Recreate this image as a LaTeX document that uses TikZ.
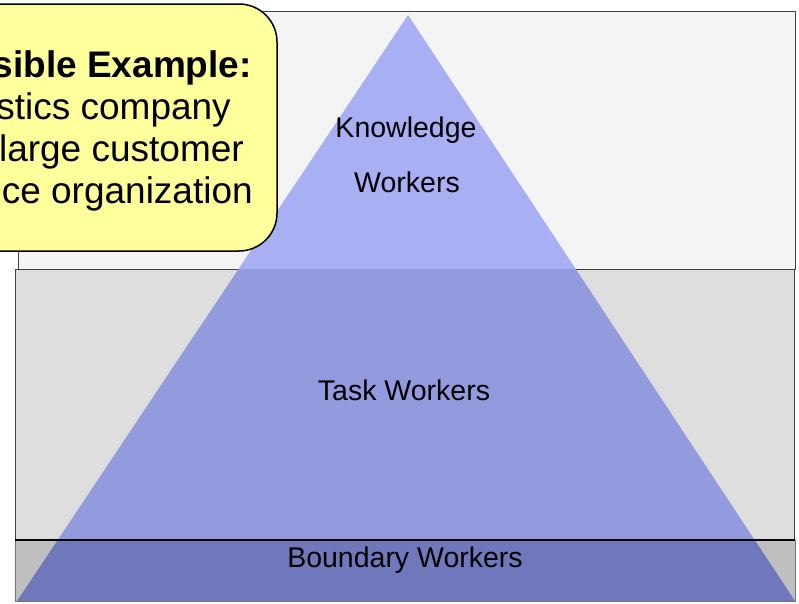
\documentclass[tikz,border=0pt]{standalone}
\usepackage{fontspec}
\setmainfont{Liberation Sans}
\definecolor{bandtop}{HTML}{F4F4F4}
\definecolor{bandmid}{HTML}{DEDEDE}
\definecolor{bandbot}{HTML}{BFBFBF}
\definecolor{pyrtop}{HTML}{A8AFF3}
\definecolor{pyrmid}{HTML}{929BDE}
\definecolor{pyrbot}{HTML}{6F78BB}
\definecolor{calloutfill}{HTML}{FFFF9C}
\tikzset{
  band/.style={draw=black!75, line width=1pt},
  layerlabel/.style={font=\fontsize{28.5}{34}\selectfont, inner sep=0pt, anchor=base},
  callouttext/.style={font=\fontsize{37}{42}\selectfont, inner sep=0pt, anchor=base east},
}
\begin{document}
\begin{tikzpicture}[x=1pt, y=-1pt]
  \useasboundingbox (0,0) rectangle (799,603);
  \clip (0,0) rectangle (799,603);

  % background bands
  \draw[band, fill=bandtop] (18,11) rectangle (795,269);
  \draw[band, fill=bandmid] (15,269) rectangle (794,540);
  \draw[band, draw=black!55, fill=bandbot] (15,540) rectangle (795,601);

  % pyramid, tinted per band
  \coordinate (apex) at (408,15);
  \coordinate (baseL) at (17,601);
  \coordinate (baseR) at (795,601);
  \begin{scope}
    \clip (0,0) rectangle (799,269);
    \fill[pyrtop] (apex) -- (baseL) -- (baseR) -- cycle;
  \end{scope}
  \begin{scope}
    \clip (0,269) rectangle (799,540);
    \fill[pyrmid] (apex) -- (baseL) -- (baseR) -- cycle;
  \end{scope}
  \begin{scope}
    \clip (0,540) rectangle (799,603);
    \fill[pyrbot] (apex) -- (baseL) -- (baseR) -- cycle;
  \end{scope}

  % dividing line above the bottom band
  \coordinate (divL) at (15,540);
  \coordinate (divR) at (795,540);
  \draw[line width=2pt, black] (divL) -- (divR);

  % layer labels
  \node[layerlabel] (know) at (406,137) {Knowledge};
  \node[layerlabel] (knowb) at (407,192) {Workers};
  \node[layerlabel] (task) at (404,400) {Task Workers};
  \node[layerlabel] (bound) at (405,567) {Boundary Workers};

  % callout
  \draw[line width=1.5pt, fill=calloutfill, rounded corners=38pt] (-80,4) rectangle (277,251);
  \node[callouttext, font=\bfseries\fontsize{37}{42}\selectfont] (ex1) at (252,77) {Possible Example:};
  \node[callouttext] (ex2) at (231,119) {Logistics company};
  \node[callouttext] (ex3) at (244,161) {or large customer};
  \node[callouttext] (ex4) at (253,203) {service organization};
\end{tikzpicture}
\end{document}
